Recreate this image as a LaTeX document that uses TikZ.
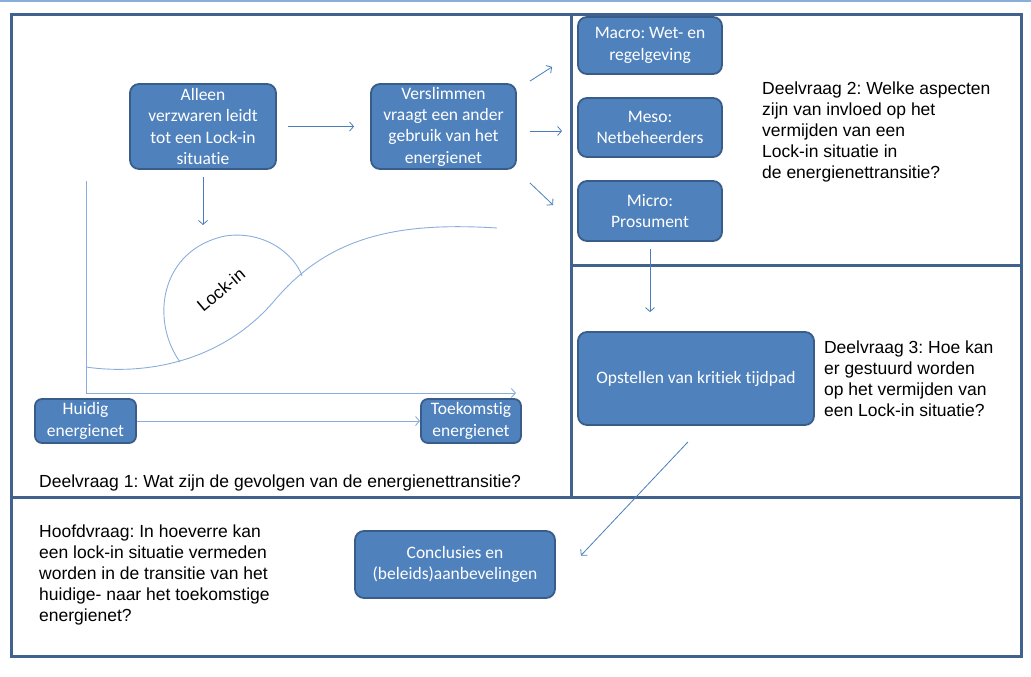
\documentclass[tikz,border=0pt]{standalone}
\usepackage{fontspec}
\setmainfont{Liberation Sans}
\newfontfamily\boxfont[Ligatures=NoCommon]{Carlito}
\usepackage{tikz}
\usetikzlibrary{positioning,calc,arrows.meta}
\frenchspacing

\definecolor{boxfill}{HTML}{4F81BD}
\definecolor{boxline}{HTML}{385D8A}
\definecolor{framecol}{HTML}{41618F}
\definecolor{arrowcol}{HTML}{4A7EBB}
\definecolor{curvecol}{HTML}{8AAEDC}

\begin{document}
\begin{tikzpicture}[x=1pt,y=-1pt,>={Straight Barb[length=4pt,width=9pt]},
   blok/.style={draw=boxline,fill=boxfill,line width=1.8pt,rounded corners=9pt,
                text=white,font=\boxfont\fontsize{17.5}{21.3}\selectfont,align=center,inner sep=0pt},
   vraag/.style={font=\fontsize{17.5}{21}\selectfont,align=left,inner sep=0pt},
   pijl/.style={->,draw=arrowcol,line width=0.8pt},
   lijn/.style={draw=curvecol,line width=0.9pt},
   kader/.style={draw=framecol,line width=3pt}]
   \useasboundingbox (0,0) rectangle (1031,677);
   \draw[curvecol,line width=1.5pt] (0,1) -- (1031,1);
   % frame
   \draw[kader] (11,15) rectangle (1021,656);
   \draw[kader] (571,15) -- (571,497);
   \draw[kader] (571,265) -- (1021,265);
   \draw[kader] (11,497) -- (1021,497);
   % boxes
   \node[blok,minimum width=146pt,minimum height=85pt] (alleen) at (203,126.5) {Alleen\\verzwaren leidt\\tot een  Lock-in\\situatie};
   \node[blok,minimum width=145pt,minimum height=85pt] (verslim) at (443.5,126.5) {Verslimmen\\vraagt een ander\\gebruik van het\\energienet};
   \node[blok,minimum width=144pt,minimum height=57pt] (macro) at (650,45.5) {Macro: Wet- en\\regelgeving};
   \node[blok,minimum width=144pt,minimum height=59pt] (meso) at (650,127.5) {Meso:\\Netbeheerders};
   \node[blok,minimum width=144pt,minimum height=60pt] (micro) at (650,211) {Micro:\\Prosument};
   \node[blok,minimum width=236pt,minimum height=93pt] (opstel) at (696,378.5) {Opstellen van kritiek tijdpad};
   \node[blok,minimum width=101pt,minimum height=44pt,rounded corners=7pt] (huidig) at (85.5,421) {Huidig\\energienet};
   \node[blok,minimum width=100pt,minimum height=44pt,rounded corners=7pt] (toekomst) at (471,421) {Toekomstig\\energienet};
   \node[blok,minimum width=200pt,minimum height=67pt] (concl) at (455,564.5) {Conclusies en\\(beleids)aanbevelingen};
   % questions
   \node[vraag,anchor=north west] (d2) at (762,82) {Deelvraag 2: Welke aspecten\\zijn van invloed op het\\vermijden van een\\Lock-in situatie in\\de energienettransitie?};
   \node[vraag,anchor=west,right=9pt of opstel] (d3) {Deelvraag 3: Hoe kan\\er gestuurd worden\\op het vermijden van\\een Lock-in situatie?};
   \node[vraag,anchor=base west] (d1) at (39,487) {Deelvraag 1: Wat zijn de gevolgen van de energienettransitie?};
   \node[vraag,anchor=north west] (hoofd) at (39,525) {Hoofdvraag: In hoeverre kan\\een lock-in situatie vermeden\\worden in de transitie van het\\huidige- naar het toekomstige\\energienet?};
   % graph
   \coordinate (oorsprong) at (86,393);
   \coordinate (ytop) at (86,181);
   \coordinate (xeind) at (516,393);
   \coordinate (lockintop) at (203,225);
   \draw[lijn,->] (ytop) -- (oorsprong) -- (xeind);
   \draw[lijn] (86,367) .. controls (140,375) and (220,365) .. (275,300)
               .. controls (330,235) and (400,222) .. (497,228);
   \draw[lijn] (180,362) .. controls (150,320) and (160,250) .. (225,236)
               .. controls (265,230) and (295,255) .. (302,276);
   \node[font=\fontsize{17.5}{21}\selectfont,rotate=40] (lockin) at (221,290) {Lock-in};
   % arrows
   \draw[pijl,shorten <=11pt,shorten >=16pt] (alleen) -- (verslim);
   \draw[pijl,shorten <=7pt] (alleen) -- (lockintop);
   \draw[pijl] ($(verslim.north east)+(13,-2)$) -- ($(macro.south west)+(-25,-8)$);
   \draw[pijl] ($(verslim.east)+(13,4.5)$) -- ($(meso.west)+(-15,3.5)$);
   \draw[pijl] ($(verslim.south east)+(13,13)$) -- ($(micro.west)+(-24,-6)$);
   \draw[pijl,shorten <=7pt,shorten >=19pt] (micro.south) -- (micro.south |- opstel.north);
   \draw[pijl] ($(opstel.south)+(-8,16)$) -- ($(concl.east)+(25,-9)$);
   \draw[lijn,->] (huidig) -- (toekomst);
\end{tikzpicture}
\end{document}
